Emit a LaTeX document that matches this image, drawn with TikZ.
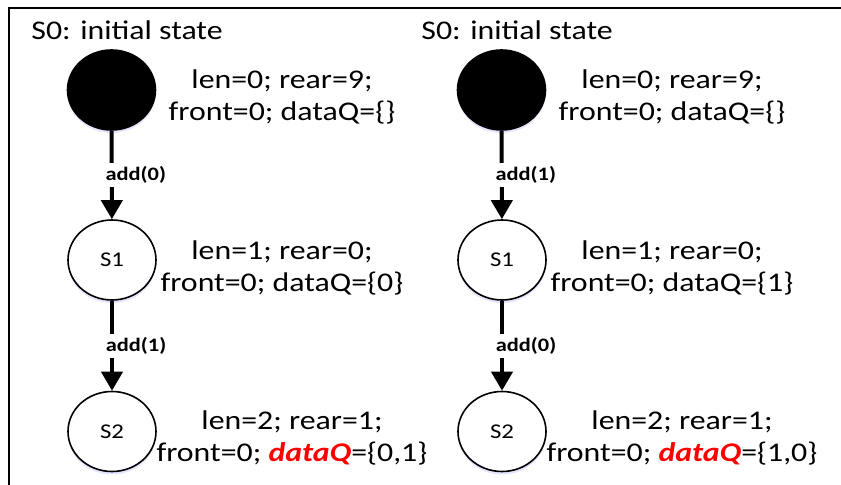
\documentclass[tikz,border=0pt]{standalone}
\usepackage{fontspec}
\setmainfont[FakeStretch = 1.18]{Carlito}
\usetikzlibrary{arrows.meta, shapes.geometric, shadows}

\begin{document}
\begin{tikzpicture}[> = {Triangle[width = 10.5pt, length = 9.5pt]}, x = 0.5pt, y = -0.5pt,
	state/.style = {ellipse, draw, line width = 0.8pt, fill = white, minimum width = 44pt, minimum height = 40pt, inner sep = 0pt, font = \fontsize{10.5}{12}\selectfont,
		drop shadow = {shadow xshift = 0pt, shadow yshift = -1.5pt, fill = blue!30, opacity = 0.35}},
	init/.style = {state, fill = black},
	vars/.style = {align = center, inner sep = 0pt, font = \fontsize{13.5}{16}\selectfont},
	title/.style = {anchor = base west, inner sep = 0pt, font = \fontsize{13.5}{16}\selectfont},
	trans/.style = {->, line width = 2pt},
	act/.style = {fill = white, inner sep = 1.8pt, xshift = 12pt, font = \fontsize{9.5}{11}\selectfont\bfseries}]

	\useasboundingbox (0, 0) rectangle (841, 485);

	% Frame

	\draw [line width = 1.2pt] (9, 485) |- (841, 8);

	% Left run: add(0) then add(1)

	\node (titleL) [title] at (31, 40) {S0: initial state};

	\node (s0L) [init] at (111.5, 90) {};
	\node (s1L) [state] at (112, 260) {S1};
	\node (s2L) [state] at (112, 431.5) {S2};

	\node (v0L) [vars] at (282, 97) {len=0; rear=9;\\front=0; dataQ=\{\}};
	\node (v1L) [vars] at (282, 268) {len=1; rear=0;\\front=0; dataQ=\{0\}};
	\node (v2L) [vars] at (292, 438) {len=2; rear=1;\\front=0; \textcolor{red}{\textbf{\textit{dataQ}}}=\{0,1\}};

	\draw [trans] (s0L) -- node [act] {add(0)} (s1L);
	\draw [trans] (s1L) -- node [act] {add(1)} (s2L);

	% Right run: add(1) then add(0)

	\node (titleR) [title] at (421, 40) {S0: initial state};

	\node (s0R) [init] at (501.5, 90) {};
	\node (s1R) [state] at (502, 260) {S1};
	\node (s2R) [state] at (502, 431.5) {S2};

	\node (v0R) [vars] at (672, 97) {len=0; rear=9;\\front=0; dataQ=\{\}};
	\node (v1R) [vars] at (672, 268) {len=1; rear=0;\\front=0; dataQ=\{1\}};
	\node (v2R) [vars] at (682, 438) {len=2; rear=1;\\front=0; \textcolor{red}{\textbf{\textit{dataQ}}}=\{1,0\}};

	\draw [trans] (s0R) -- node [act] {add(1)} (s1R);
	\draw [trans] (s1R) -- node [act] {add(0)} (s2R);

\end{tikzpicture}
\end{document}
